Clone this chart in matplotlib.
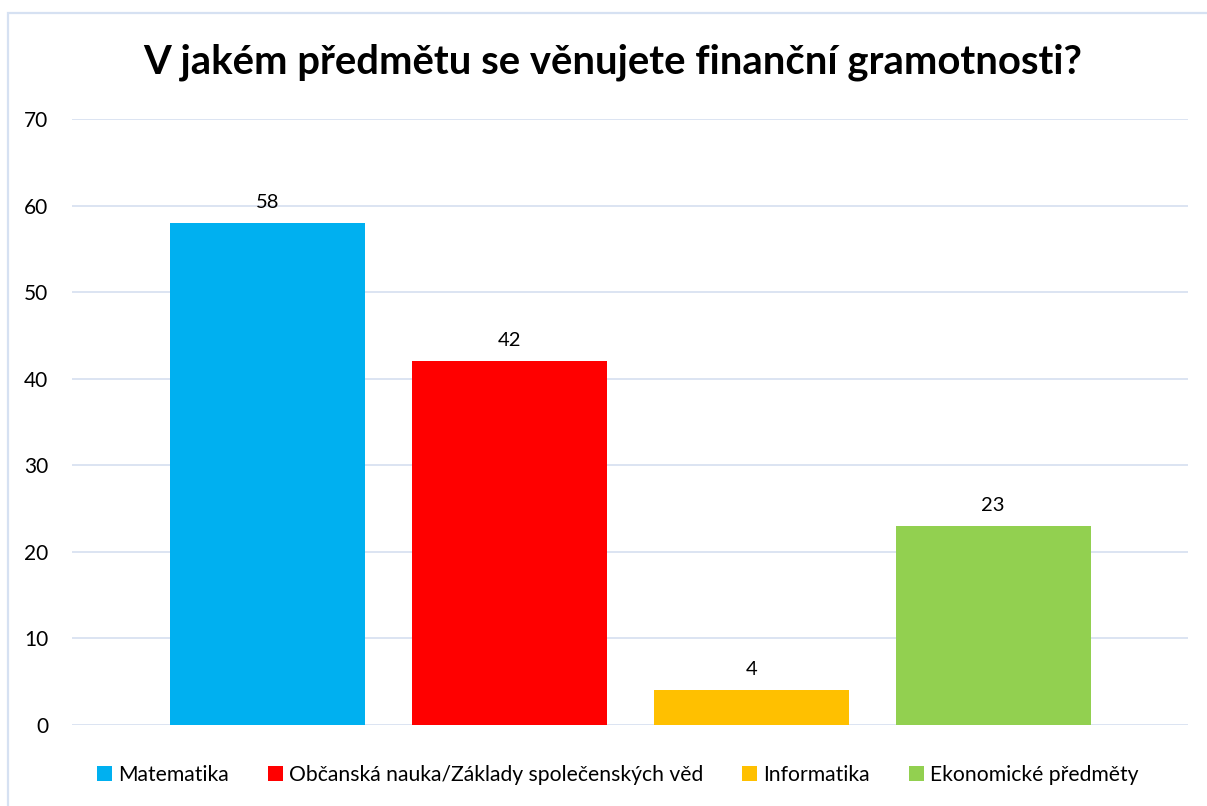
import matplotlib
matplotlib.use("Agg")
import matplotlib.pyplot as plt
from matplotlib.patches import Rectangle

title = "V jakém předmětu se věnujete finanční gramotnosti?"
categories = ["Matematika", "Občanská nauka/Základy společenských věd", "Informatika", "Ekonomické předměty"]
values = [58, 42, 4, 23]
colors = ["#00B0F0", "#FF0000", "#FFC000", "#92D050"]
yticks = [0, 10, 20, 30, 40, 50, 60, 70]

plt.rcParams['font.family'] = ['Lato', 'DejaVu Sans']

fig = plt.figure(figsize=(12.07, 8.06), dpi=100)
ax = fig.add_axes([72/1207, 1-725/806, (1188-72)/1207, (725-119)/806])

x = list(range(len(values)))
bars = ax.bar(x, values, width=0.806, color=colors, label=categories, zorder=3)
for xi, v in zip(x, values):
    ax.text(xi, v + 1.4, str(v), ha='center', va='bottom', fontsize=14.5, color='#000000')

ax.set_xlim(-0.808, 3.806)
ax.set_ylim(0, 70)
ax.set_yticks(yticks)
ax.set_yticklabels([str(t) for t in yticks], fontsize=15)
ax.set_xticks([])
ax.tick_params(axis='y', length=0, pad=17)
ax.grid(axis='y', color='#D9E2F1', linewidth=1.3, zorder=0)
for s in ax.spines.values():
    s.set_visible(False)

fig.text(612.5/1207, 1-62/806, title, ha='center', va='center', fontsize=28.8, fontweight='bold')

leg = fig.legend(handles=bars, labels=categories, loc='center', bbox_to_anchor=(618/1207, 1-775/806),
                 ncol=4, frameon=False, fontsize=15.2, handlelength=0.7, handleheight=0.7,
                 handletextpad=0.3, columnspacing=1.85)

fig.patches.append(Rectangle((8/1207, -0.05), 1.1, 1-13/806+0.05, transform=fig.transFigure,
                             fill=False, edgecolor='#D6E1F2', linewidth=1.6))

fig.savefig("out.png", dpi=100)
